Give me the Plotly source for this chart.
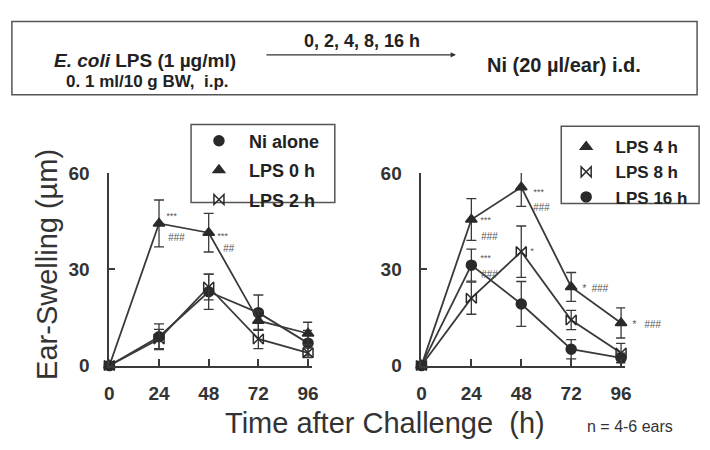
import plotly.graph_objects as go

W, H = 710, 450
def px(x): return x / W
def py(y): return 1 - y / H

hours = [0, 24, 48, 72, 96]
x_ticks = [0, 24, 48, 72, 96]
y_ticks = [0, 30, 60]

# Left panel
ni_alone = [0, 9, 23, 16.5, 7]
ni_alone_err = [0, 4, 5.5, 5.5, 4]
lps0 = [0, 44.3, 41.4, 14, 10]
lps0_err = [0, 7.3, 6, 3, 3.5]
lps2 = [0, 8.3, 24.5, 8.3, 4]
lps2_err = [0, 3, 4, 3, 1.5]

# Right panel
lps4 = [0, 45.5, 55.6, 24.5, 13.3]
lps4_err = [0, 6.5, 6, 4.5, 4.7]
lps8 = [0, 21, 35.5, 14.2, 3.9]
lps8_err = [0, 5, 8, 3, 3]
lps16 = [0, 31.3, 19.2, 5.1, 2.4]
lps16_err = [0, 5, 7, 3, 1.5]

LC = "#3a3a3a"
FONT = "Liberation Sans, Arial, sans-serif"

fig = go.Figure()

def add_series(x, y, err, sym, size, xa, ya):
    fig.add_trace(go.Scatter(
        x=x, y=y, mode="lines+markers", xaxis=xa, yaxis=ya,
        line=dict(color=LC, width=1.8),
        marker=dict(symbol=sym, size=size, color="#2a2a2a",
                    line=dict(color="#2a2a2a", width=1.5)),
        error_y=dict(type="data", array=err, visible=True, color=LC,
                     thickness=1.3, width=5),
        showlegend=False, cliponaxis=False))

add_series(hours, ni_alone, ni_alone_err, "circle", 10, "x", "y")
add_series(hours, lps0, lps0_err, "triangle-up", 10, "x", "y")
add_series(hours, lps2, lps2_err, "bowtie-open", 10, "x", "y")
add_series(hours, lps4, lps4_err, "triangle-up", 10, "x2", "y2")
add_series(hours, lps8, lps8_err, "bowtie-open", 10, "x2", "y2")
add_series(hours, lps16, lps16_err, "circle", 10, "x2", "y2")

SP = "\u00a0\u00a0"
def legend_entry(name, sym, leg, grp):
    fig.add_trace(go.Scatter(
        x=[None], y=[None], mode="markers", name=SP + name, legend=leg,
        legendgroup=grp,
        marker=dict(symbol=sym, size=10, color="#2a2a2a",
                    line=dict(color="#2a2a2a", width=1.5)),
        showlegend=True))

legend_entry("Ni alone", "circle", "legend", "a")
legend_entry("LPS 0 h", "triangle-up", "legend", "b")
legend_entry("LPS 2 h", "bowtie-open", "legend", "c")
legend_entry("LPS 4 h", "triangle-up", "legend2", "d")
legend_entry("LPS 8 h", "bowtie-open", "legend2", "e")
legend_entry("LPS 16 h", "circle", "legend2", "f")

xaxis_common = dict(
    range=[0, 98], tickvals=x_ticks, ticks="inside", ticklen=7,
    tickcolor=LC, tickwidth=1.5, showline=True, linecolor=LC, linewidth=1.8,
    showgrid=False, zeroline=False, ticklabelstandoff=10,
    tickfont=dict(family=FONT, size=19, color="#333", weight="bold"),
)
yaxis_common = dict(
    range=[0, 60], tickvals=y_ticks, ticks="inside", ticklen=6,
    tickcolor=LC, tickwidth=1.5, showline=True, linecolor=LC, linewidth=1.8,
    showgrid=False, zeroline=False, ticklabelstandoff=14,
    tickfont=dict(family=FONT, size=19, color="#333", weight="bold"),
    domain=[py(373), py(171)],
)

fig.update_layout(
    width=W, height=H, autosize=False,
    margin=dict(l=0, r=0, t=0, b=0),
    paper_bgcolor="white", plot_bgcolor="white",
    xaxis=dict(domain=[px(106), px(312)], anchor="y", **xaxis_common),
    yaxis=dict(anchor="x", **yaxis_common),
    xaxis2=dict(domain=[px(423), px(630)], anchor="y2", **xaxis_common),
    yaxis2=dict(anchor="x2", **yaxis_common),
    legend=dict(x=px(197), y=py(118), xanchor="left", yanchor="top",
                bgcolor="rgba(0,0,0,0)", borderwidth=0, tracegroupgap=3,
                font=dict(family=FONT, size=18, color="#222", weight="bold")),
    legend2=dict(x=px(570), y=py(125), xanchor="left", yanchor="top",
                 bgcolor="rgba(0,0,0,0)", borderwidth=0, tracegroupgap=0,
                 font=dict(family=FONT, size=17, color="#222", weight="bold")),
)

shapes = [
    dict(type="rect", xref="paper", yref="paper", x0=px(7), x1=px(703),
         y0=py(12), y1=py(89), line=dict(color="#555", width=1.5)),
    dict(type="rect", xref="paper", yref="paper", x0=px(189), x1=px(335),
         y0=py(120), y1=py(202), line=dict(color="#555", width=1.5)),
    dict(type="rect", xref="paper", yref="paper", x0=px(565), x1=px(705),
         y0=py(122), y1=py(203), line=dict(color="#555", width=1.5)),
]
fig.update_layout(shapes=shapes)

ann = []
def ptext(x, y, text, size, color="#222", bold=False, xanchor="center"):
    ann.append(dict(x=px(x), y=py(y), xref="paper", yref="paper", text=text,
                    showarrow=False, xanchor=xanchor, yanchor="middle",
                    font=dict(family=FONT, size=size, color=color,
                              weight="bold" if bold else "normal")))

# two-line label on the left of the protocol box
ann.append(dict(x=px(142), y=py(63), xref="paper", yref="paper",
                text=("<span style='font-size:19px'><i>E. coli</i> LPS (1 µg/ml)</span><br>"
                      "<span style='font-size:17px'>\u00a00. 1 ml/10 g BW,\u00a0 i.p.</span>"),
                showarrow=False, xanchor="center", yanchor="middle", align="center",
                font=dict(family=FONT, size=15, color="#222", weight="bold")))
ptext(363, 33, "0, 2, 4, 8, 16 h", 18, bold=True)
ptext(488, 58, "Ni (20 µl/ear) i.d.", 20, bold=True, xanchor="left")
ann.append(dict(x=px(458), y=py(47), xref="paper", yref="paper", ax=-191, ay=0,
                axref="pixel", ayref="pixel", text="", showarrow=True,
                arrowhead=2, arrowsize=0.8, arrowwidth=1.3, arrowcolor="#333"))
ptext(386, 433, "Time after Challenge\u00a0 (h)", 29, color="#333")
ptext(589, 437, "n = 4-6 ears", 16, color="#333", xanchor="left")
ann.append(dict(x=px(42), y=py(267), xref="paper", yref="paper",
                text="Ear-Swelling (µm)", textangle=-90, showarrow=False,
                xanchor="center", yanchor="middle",
                font=dict(family=FONT, size=29, color="#333")))

# significance marks near data points
def sig(xa, ya, xv, yv, text, dx, dy, size=10):
    ann.append(dict(x=xv, y=yv, xref=xa, yref=ya, text="<i>" + text + "</i>",
                    showarrow=False, xanchor="left", yanchor="middle",
                    xshift=dx, yshift=dy,
                    font=dict(family=FONT, size=size, color="#555")))

sig("x", "y", 24, lps0[1], "***", 5, 7, 9)
sig("x", "y", 24, lps0[1], "###", 7, -14)
sig("x", "y", 48, lps0[2], "***", 6, -3, 9)
sig("x", "y", 48, lps0[2], "##", 12, -16)
sig("x2", "y2", 24, lps4[1], "***", 7, 0, 9)
sig("x2", "y2", 24, lps4[1], "###", 8, -17)
sig("x2", "y2", 24, lps16[1], "***", 7, 7, 9)
sig("x2", "y2", 24, lps16[1], "###", 8, -9)
sig("x2", "y2", 48, lps4[2], "***", 10, -5, 9)
sig("x2", "y2", 48, lps4[2], "###", 10, -20)
sig("x2", "y2", 48, lps8[2], "*", 7, 1, 9)
sig("x2", "y2", 72, lps4[3], "*  ###", 9, -2)
sig("x2", "y2", 96, lps4[4], "*   ###", 9, -2)

fig.update_layout(annotations=ann)

fig.write_html("out.html")
